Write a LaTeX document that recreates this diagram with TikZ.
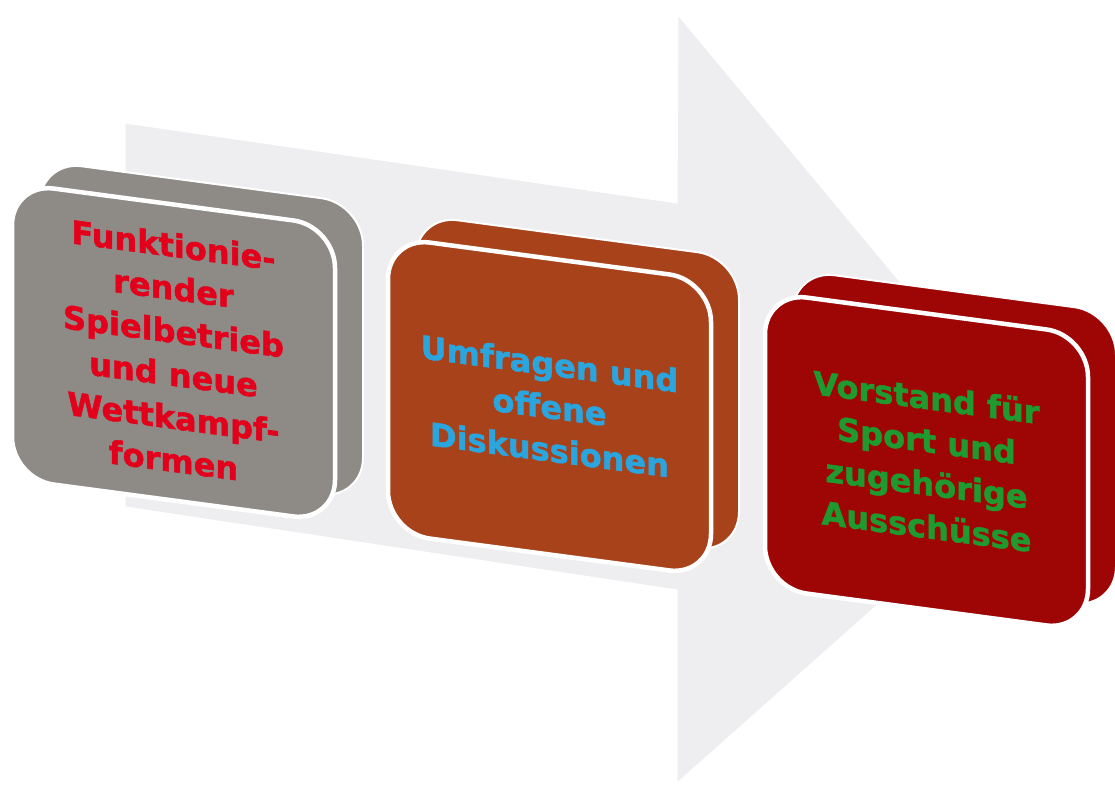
\documentclass[tikz,border=0pt]{standalone}
\usepackage{fontspec}
\setmainfont{DejaVu Sans}[BoldFeatures={FakeBold=1.5}]
\definecolor{boxgrey}{HTML}{8E8A86}
\definecolor{boxbrown}{HTML}{A8421A}
\definecolor{boxred}{HTML}{9E0606}
\definecolor{arrowgrey}{HTML}{EEEEF1}
\definecolor{txtred}{HTML}{E3001B}
\definecolor{txtblue}{HTML}{2AA5DE}
\definecolor{txtgreen}{HTML}{1F9A2E}
\begin{document}
\begin{tikzpicture}[x=1pt,y=1pt,
  face/.style={rectangle, rounded corners=42pt, minimum width=323pt, minimum height=296pt,
    draw=white, line width=4.5pt, transform shape, align=center, inner sep=0pt,
    font=\fontsize{32}{43}\selectfont\bfseries},
  backface/.style={rectangle, rounded corners=42pt, minimum width=323pt, minimum height=296pt,
    draw=white, line width=2pt, transform shape}]
\useasboundingbox (0,0) rectangle (1115,784);
\fill[arrowgrey, draw=white, line width=1pt] (125,661) -- (677,581) -- (678,769) -- (1045,328)
  -- (677,1) -- (677,194) -- (125,277) -- cycle;
\begin{scope}[shift={(173.5,431.5)}, yslant=-0.133]
  \node[backface, fill=boxgrey] (b1back) at (28,26) {};
  \node[face, fill=boxgrey, text=txtred] (b1) at (0,0)
    {Funktionie-\\render\\Spielbetrieb\\und neue\\Wettkampf-\\formen};
\end{scope}
\begin{scope}[shift={(549.5,377.5)}, yslant=-0.133]
  \node[backface, fill=boxbrown] (b2back) at (28,26) {};
  \node[face, fill=boxbrown, text=txtblue] (b2) at (0,0)
    {Umfragen und\\offene\\Diskussionen};
\end{scope}
\begin{scope}[shift={(926.5,322.5)}, yslant=-0.133]
  \node[backface, fill=boxred] (b3back) at (28,26) {};
  \node[face, fill=boxred, text=txtgreen] (b3) at (0,0)
    {Vorstand für\\Sport und\\zugehörige\\Ausschüsse};
\end{scope}
\end{tikzpicture}
\end{document}
